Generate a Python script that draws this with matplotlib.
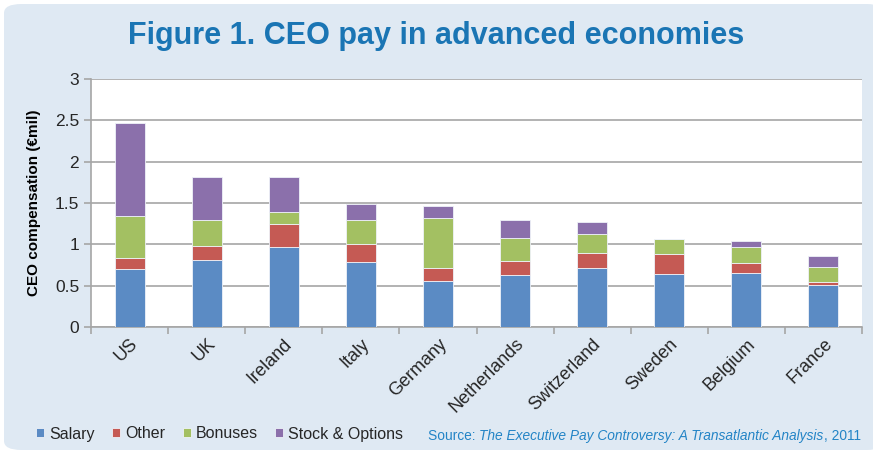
import matplotlib.pyplot as plt
import numpy as np
from matplotlib.patches import FancyBboxPatch

# CEO compensation components, € million
countries = ["US", "UK", "Ireland", "Italy", "Germany", "Netherlands",
             "Switzerland", "Sweden", "Belgium", "France"]
salary = [0.70, 0.81, 0.97, 0.79, 0.56, 0.63, 0.71, 0.645, 0.65, 0.51]
other = [0.14, 0.17, 0.28, 0.21, 0.15, 0.17, 0.19, 0.235, 0.12, 0.04]
bonuses = [0.50, 0.32, 0.14, 0.29, 0.61, 0.28, 0.22, 0.18, 0.20, 0.17]
stock = [1.13, 0.52, 0.42, 0.20, 0.14, 0.22, 0.15, 0.01, 0.07, 0.14]

series = [("Salary", salary, "#5b8bc4"),
          ("Other", other, "#c55a54"),
          ("Bonuses", bonuses, "#a3c062"),
          ("Stock & Options", stock, "#8b70ab")]

plt.rcParams["font.family"] = ["Liberation Sans", "DejaVu Sans"]
plt.rcParams["text.color"] = "#262626"
plt.rcParams["xtick.labelcolor"] = "#262626"
plt.rcParams["ytick.labelcolor"] = "#262626"

fig = plt.figure(figsize=(8.73, 4.54), dpi=100)
fig.patch.set_facecolor("white")

# light blue rounded panel behind everything
panel = FancyBboxPatch((4 / 873, 4 / 454), 880 / 873, 446 / 454,
                       boxstyle="round,pad=0,rounding_size=0.02",
                       transform=fig.transFigure, facecolor="#dfe9f3",
                       edgecolor="none", zorder=-5)
fig.patches.append(panel)

ax = fig.add_axes([91 / 873, 1 - 327 / 454, 771 / 873, 248 / 454])
ax.set_facecolor("white")

x = np.arange(len(countries))
bottom = np.zeros(len(countries))
for name, vals, color in series:
    ax.bar(x, vals, 0.39, bottom=bottom, color=color, label=name,
           edgecolor="#eef2f8", linewidth=0.6, zorder=3)
    bottom += np.array(vals)

ax.set_xlim(-0.5, len(countries) - 0.5)
ax.set_ylim(0, 3)
ax.set_yticks(np.arange(0, 3.01, 0.5))
ax.set_yticklabels(["0", "0.5", "1", "1.5", "2", "2.5", "3"])
ax.yaxis.grid(True, color="#a6a6a6", linewidth=1.2, zorder=0)

ax.set_xticks(x)
ax.set_xticklabels(countries, rotation=45, ha="right", rotation_mode="anchor")
ax.set_xticks(np.arange(-0.5, len(countries)), minor=True)
ax.tick_params(axis="x", which="major", length=0, labelsize=13, pad=6)
ax.tick_params(axis="x", which="minor", length=5, color="#a6a6a6", width=1.2)
ax.tick_params(axis="y", length=5, color="#a6a6a6", width=1.2, labelsize=12.5)

for s in ["top", "right"]:
    ax.spines[s].set_visible(False)
for s in ["left", "bottom"]:
    ax.spines[s].set_color("#a6a6a6")
    ax.spines[s].set_linewidth(1.2)

ax.set_ylabel("CEO compensation (€mil)", fontsize=11, fontweight="bold",
              labelpad=10, color="black")

fig.text(0.5, 1 - 36 / 454, "Figure 1. CEO pay in advanced economies",
         ha="center", va="center", fontsize=22, fontweight="bold",
         color="#1a75b4")

leg = fig.legend(loc="center left", bbox_to_anchor=(30 / 873, 1 - 434 / 454),
                 ncol=4, frameon=False, fontsize=11.5, handlelength=0.5,
                 handleheight=0.5, handletextpad=0.3, columnspacing=1.1,
                 borderaxespad=0)

# source line: plain / italic / plain pieces placed one after another
src_color = "#2384c6"
fig.canvas.draw()
renderer = fig.canvas.get_renderer()
pieces = [("Source: ", "normal"),
          ("The Executive Pay Controversy: A Transatlantic Analysis", "italic"),
          (", 2011", "normal")]
xpos = 428 / 873
for txt, style in pieces:
    t = fig.text(xpos, 1 - 436 / 454, txt, ha="left", va="center",
                 fontsize=9.9, style=style, color=src_color)
    bb = t.get_window_extent(renderer)
    xpos += bb.width / fig.bbox.width

fig.savefig("out.png", dpi=100, facecolor=fig.get_facecolor())
